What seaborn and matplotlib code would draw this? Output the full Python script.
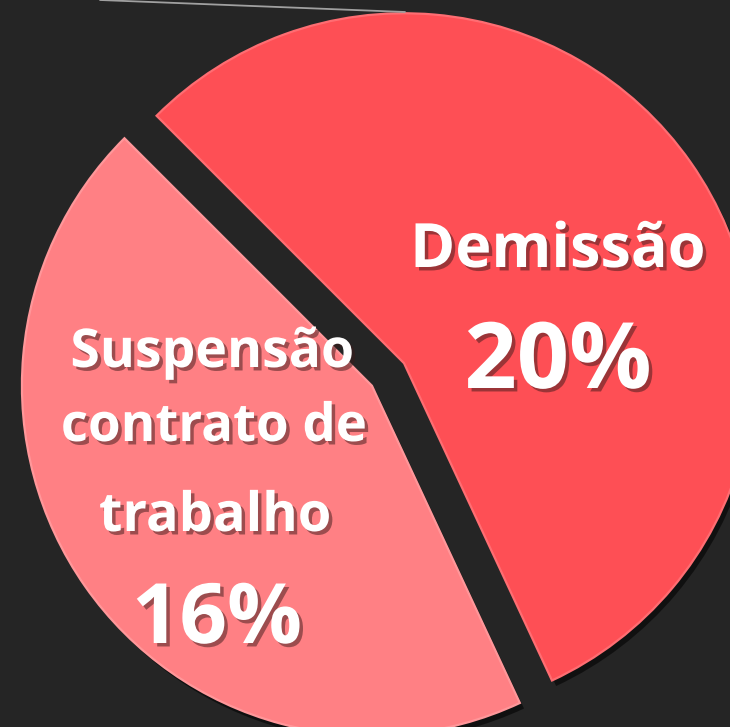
import matplotlib
matplotlib.use("Agg")
import matplotlib.pyplot as plt
import matplotlib.patheffects as pe
from matplotlib.lines import Line2D
import seaborn as sns

# datos del grafico
categorias = ["Demissão", "Suspensão\ncontrato de\ntrabalho"]
valores = [20, 16]
etiquetas_pct = ["20%", "16%"]
colores = ["#FE4F55", "#FF8084"]
bordes = ["#FF6D72", "#FF979A"]

sns.set_theme(style="dark")
plt.rcParams["font.family"] = ["Open Sans", "DejaVu Sans"]

fondo = "#252525"
fig = plt.figure(figsize=(7.30, 7.27), dpi=100, facecolor=fondo)
ax = fig.add_axes([0, 0, 1, 1])
ax.set_facecolor(fondo)

# centro del pastel en pixeles y radio
cx, cy, r = 388, 374.5, 350
W, H = 730, 727

wedges, _ = ax.pie(valores, colors=colores, startangle=-65, counterclock=True,
                   explode=[0.056, 0.056], radius=1.0,
                   wedgeprops=dict(linewidth=1.6))
for w, b in zip(wedges, bordes):
    w.set_edgecolor(b)
    w.set_path_effects([pe.SimplePatchShadow(offset=(3, -4), shadow_rgbFace="black", alpha=0.55),
                        pe.Normal()])

ax.set_xlim(-cx / r, (W - cx) / r)
ax.set_ylim(-(H - cy) / r, cy / r)
ax.set_aspect("auto")
ax.axis("off")

# linea fina arriba
fig.add_artist(Line2D([100 / W, 405 / W], [1.0, 1 - 12 / H], color="#a0a0a0", lw=1.3))

sombra = [pe.withSimplePatchShadow(offset=(2.5, -2.5), shadow_rgbFace="#3a1a1a", alpha=0.5)]

def px(x, y):
    return x / W, 1 - y / H

def texto(x, y, s, size):
    fig.text(*px(x, y), s, ha="center", va="baseline", color="white",
             fontsize=size, fontweight="bold", path_effects=sombra)

texto(558, 267, categorias[0], 44)
texto(558, 388, etiquetas_pct[0], 66)

lineas = categorias[1].split("\n")
texto(212, 367, lineas[0], 38.5)
texto(214, 441, lineas[1], 38)
texto(215, 531, lineas[2], 39)
texto(217, 643, etiquetas_pct[1], 60)

plt.savefig("out.png", dpi=100, facecolor=fondo)
